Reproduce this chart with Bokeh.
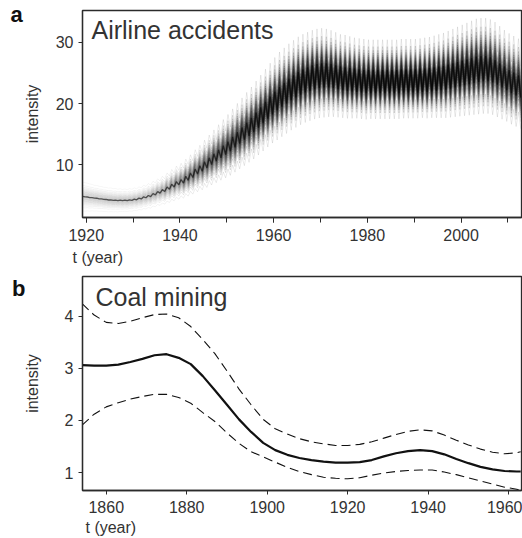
import numpy as np
from statistics import NormalDist
from bokeh.plotting import figure
from bokeh.layouts import column
from bokeh.models import Range1d, SingleIntervalTicker, Label
from bokeh.embed import file_html
from bokeh.resources import INLINE

# ---------------- data: airline accidents (posterior intensity) ----------------
air_years = list(range(1919, 2013))
air_trend = [
    4.8, 4.7, 4.6, 4.5, 4.4, 4.3, 4.25, 4.2, 4.2, 4.2, 4.25,
    4.35, 4.5, 4.7, 4.9, 5.2, 5.5, 5.8, 6.2, 6.6, 7.0,
    7.3, 7.8, 8.3, 8.9, 9.4, 10.0, 10.6, 11.2, 11.8, 12.4,
    13.0, 13.7, 14.4, 15.1, 15.8, 16.5, 17.3, 18.1, 18.9, 19.7,
    20.4, 21.1, 21.7, 22.3, 22.8, 23.3, 23.7, 24.0, 24.3, 24.5,
    24.6, 24.6, 24.5, 24.3, 24.1, 24.0, 23.9, 23.8, 23.7, 23.6,
    23.6, 23.6, 23.6, 23.6, 23.6, 23.6, 23.6, 23.7, 23.7, 23.7,
    23.7, 23.8, 23.8, 23.9, 24.0, 24.1, 24.2, 24.4, 24.6, 24.8,
    25.0, 25.2, 25.4, 25.6, 25.7, 25.7, 25.5, 25.1, 24.6, 24.1,
    23.6, 23.2, 22.8,
]
air_sigma = [
    1.1, 1.05, 1.0, 0.97, 0.94, 0.92, 0.9, 0.88, 0.86, 0.85, 0.85,
    0.85, 0.86, 0.88, 0.9, 0.93, 0.96, 1.0, 1.05, 1.1, 1.15,
    1.2, 1.27, 1.34, 1.42, 1.5, 1.58, 1.66, 1.74, 1.82, 1.9,
    1.97, 2.03, 2.08, 2.13, 2.18, 2.22, 2.26, 2.3, 2.34, 2.38,
    2.45, 2.5, 2.5, 2.5, 2.5, 2.5, 2.5, 2.5, 2.5, 2.5,
    2.5, 2.45, 2.4, 2.35, 2.3, 2.3, 2.25, 2.2, 2.2, 2.2,
    2.15, 2.15, 2.15, 2.15, 2.15, 2.15, 2.15, 2.15, 2.15, 2.15,
    2.15, 2.15, 2.2, 2.2, 2.25, 2.3, 2.35, 2.4, 2.45, 2.5,
    2.55, 2.6, 2.65, 2.7, 2.7, 2.7, 2.7, 2.7, 2.65, 2.6,
    2.6, 2.6, 2.6,
]
air_seas = (
    [0.01] * 11
    + [0.012, 0.014, 0.016, 0.018, 0.02, 0.023, 0.026, 0.03, 0.034, 0.037]
    + [0.04, 0.042, 0.044, 0.046, 0.048, 0.05, 0.052, 0.054, 0.056, 0.058]
    + [0.06, 0.062, 0.064, 0.066, 0.068, 0.07, 0.071, 0.072, 0.073, 0.074]
    + [0.075, 0.076, 0.077, 0.078, 0.079, 0.08, 0.08, 0.08, 0.08, 0.08]
    + [0.08] * 43
)

# ---------------- data: coal mining ----------------
coal_years = [1854, 1857, 1860, 1863, 1866, 1869, 1872, 1875, 1878, 1881,
              1884, 1887, 1890, 1893, 1896, 1899, 1902, 1905, 1908, 1911,
              1914, 1917, 1920, 1923, 1926, 1929, 1932, 1935, 1938, 1941,
              1944, 1947, 1950, 1953, 1956, 1959, 1962, 1963]
coal_mean = [3.06, 3.05, 3.05, 3.07, 3.12, 3.18, 3.25, 3.27, 3.20, 3.08,
             2.85, 2.58, 2.30, 2.02, 1.78, 1.57, 1.43, 1.34, 1.28, 1.24,
             1.21, 1.19, 1.19, 1.20, 1.24, 1.31, 1.37, 1.41, 1.43, 1.41,
             1.35, 1.26, 1.18, 1.11, 1.06, 1.03, 1.02, 1.02]
coal_upper = [4.24, 4.02, 3.88, 3.86, 3.90, 3.97, 4.03, 4.04, 3.97, 3.80,
              3.55, 3.28, 2.95, 2.60, 2.30, 2.02, 1.84, 1.74, 1.65, 1.59,
              1.55, 1.52, 1.52, 1.54, 1.59, 1.66, 1.73, 1.79, 1.82, 1.80,
              1.72, 1.62, 1.53, 1.45, 1.39, 1.36, 1.38, 1.40]
coal_lower = [1.91, 2.12, 2.26, 2.34, 2.41, 2.46, 2.50, 2.50, 2.44, 2.33,
              2.15, 1.98, 1.76, 1.56, 1.40, 1.30, 1.20, 1.10, 1.02, 0.96,
              0.91, 0.89, 0.88, 0.90, 0.95, 0.99, 1.02, 1.04, 1.05, 1.05,
              1.01, 0.96, 0.90, 0.84, 0.78, 0.72, 0.68, 0.66]

FONT = "Liberation Sans"
TXT = "#333333"
LINE = "#2b2b2b"
FW = 439
BL = 82


def base_fig(fh, top, bottom, xr, yr, xticker, yticker):
    p = figure(frame_width=FW, frame_height=fh, output_backend="svg",
               toolbar_location=None, x_range=Range1d(*xr), y_range=Range1d(*yr),
               min_border_left=BL, min_border_right=1, min_border_top=top,
               min_border_bottom=bottom)
    p.grid.visible = False
    p.background_fill_color = "white"
    p.border_fill_color = "white"
    p.outline_line_color = LINE
    p.outline_line_width = 1.3
    p.xaxis.ticker = xticker
    p.yaxis.ticker = yticker
    for ax in (p.xaxis, p.yaxis):
        ax.axis_line_color = LINE
        ax.axis_line_width = 1.3
        ax.major_tick_line_color = LINE
        ax.minor_tick_line_color = LINE
        ax.major_tick_in = 0
        ax.minor_tick_in = 0
        ax.major_label_text_font = FONT
        ax.major_label_text_font_size = "16px"
        ax.major_label_text_color = TXT
        ax.axis_label_text_font = FONT
        ax.axis_label_text_font_size = "16px"
        ax.axis_label_text_font_style = "normal"
        ax.axis_label_text_color = TXT
    p.xaxis.major_tick_out = 5
    p.xaxis.minor_tick_out = 5
    p.yaxis.major_tick_out = 4
    p.yaxis.minor_tick_out = 0
    p.xaxis.major_label_standoff = 6
    p.yaxis.major_label_standoff = 5
    p.yaxis.axis_label = "intensity"
    return p


def add_texts(p, fh, xr, yr, letter, letter_px, letter_y, title, title_x, title_y,
              xlab_px, xlab_dy):
    # texts outside the frame live in side panels (not clipped); their
    # positions are given in data units extrapolated from the ranges
    def dx(px):
        return xr[0] + (px - BL) * (xr[1] - xr[0]) / FW

    p.add_layout(Label(x=dx(letter_px), y=letter_y, x_units="data", y_units="screen",
                       text=letter, text_font=FONT, text_font_size="22px",
                       text_font_style="bold", text_color="#111111",
                       text_baseline="middle", text_align="left"), "left")
    ly = yr[0] - xlab_dy * (yr[1] - yr[0]) / fh
    p.add_layout(Label(x=dx(xlab_px), y=ly, x_units="data", y_units="data",
                       text="t (year)", text_font=FONT, text_font_size="16px",
                       text_color=TXT, text_baseline="middle",
                       text_align="left"), "below")
    p.add_layout(Label(x=title_x, y=title_y, x_units="screen", y_units="screen",
                       text=title, text_font=FONT, text_font_size="25px",
                       text_color=TXT, text_baseline="middle", text_align="left"))


# ---------------- panel a ----------------
FH_A = 207
XR_A = (1919.2, 2012.9)
YR_A = (1.4, 35.2)
pa = base_fig(FH_A, 10, 51, XR_A, YR_A,
              SingleIntervalTicker(interval=20, num_minor_ticks=2),
              SingleIntervalTicker(interval=10, num_minor_ticks=0))

yrs = np.array(air_years, dtype=float)
trend = np.array(air_trend)
sigma = np.array(air_sigma)
seas = np.array(air_seas)

# half-year vertices: seasonal high, then seasonal low
xs = np.empty(2 * len(yrs))
xs[0::2] = yrs + 0.25
xs[1::2] = yrs + 0.75
seas_v = np.repeat(seas, 2)
fac = 0.3 + 0.7 * np.minimum(1.0, seas_v / 0.06)   # ink fades where curves are flat
fac_seg = 0.5 * (fac[:-1] + fac[1:])

nd = NormalDist()
n_lines = 30
qs = [nd.inv_cdf((i + 0.5) / n_lines) for i in range(n_lines)]
X0, Y0, X1, Y1, AL = [], [], [], [], []
for q in qs:
    level = np.repeat(trend + q * sigma, 2)
    sign = np.tile([1.0, -1.0], len(yrs))
    ys = level * (1 + sign * seas_v)
    a_q = 0.07 + 0.17 * np.exp(-q * q / 2.0)
    X0.append(xs[:-1]); X1.append(xs[1:]); Y0.append(ys[:-1]); Y1.append(ys[1:])
    AL.append(a_q * fac_seg)
pa.segment(np.concatenate(X0), np.concatenate(Y0), np.concatenate(X1),
           np.concatenate(Y1), line_color="black",
           line_alpha=np.concatenate(AL), line_width=1.0)

ym = np.empty(2 * len(yrs))
ym[0::2] = trend * (1 + seas)
ym[1::2] = trend * (1 - seas)
pa.line(xs, ym, line_color="black", line_alpha=0.6, line_width=1.3)

add_texts(pa, FH_A, XR_A, YR_A, "a", 10, FH_A - 4, "Airline accidents", 9,
          FH_A - 19.6, 72, 39.5)

# ---------------- panel b ----------------
FH_B = 214
XR_B = (1854.1, 1963.2)
YR_B = (0.656, 4.76)
pb = base_fig(FH_B, 8, 48, XR_B, YR_B,
              SingleIntervalTicker(interval=20, num_minor_ticks=0),
              SingleIntervalTicker(interval=1, num_minor_ticks=0))
pb.xaxis.major_tick_out = 4
pb.xaxis.minor_tick_out = 0

pb.line(coal_years, coal_upper, line_color="#111111", line_width=1.1, line_dash="9 5")
pb.line(coal_years, coal_lower, line_color="#111111", line_width=1.1, line_dash="9 5")
pb.line(coal_years, coal_mean, line_color="#111111", line_width=2.2)

add_texts(pb, FH_B, XR_B, YR_B, "b", 11.5, FH_B - 12.4, "Coal mining", 13,
          FH_B - 20.3, 85, 36.5)

pa.yaxis.axis_label_standoff = 12
pb.yaxis.axis_label_standoff = 21

layout = column(pa, pb, spacing=0)
open("out.html", "w").write(file_html(layout, INLINE))
